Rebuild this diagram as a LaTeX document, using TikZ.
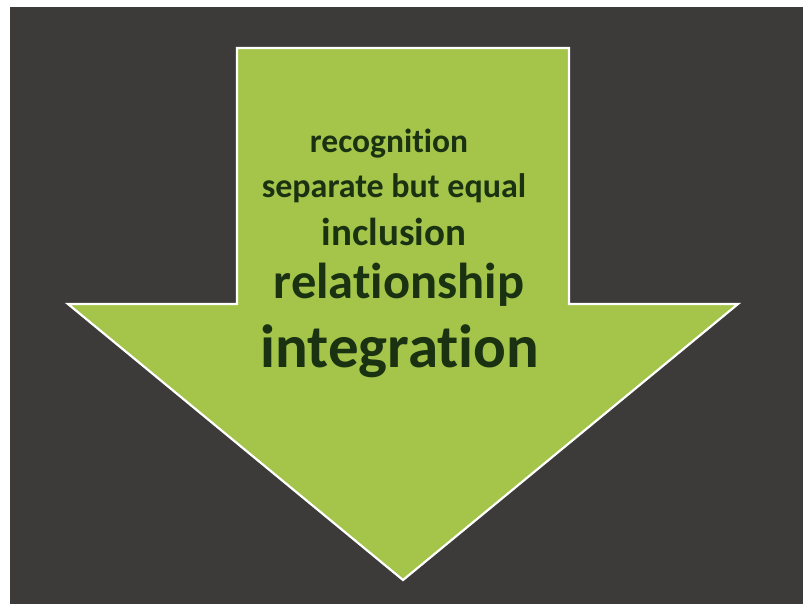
\documentclass[tikz,border=0pt]{standalone}
\usepackage{fontspec}
\setmainfont[Ligatures={NoCommon}]{Carlito}
\definecolor{bgdark}{RGB}{60,59,57}
\definecolor{arrowgreen}{RGB}{164,197,74}
\definecolor{textgreen}{RGB}{26,50,18}
\begin{document}
\begin{tikzpicture}[x=1pt,y=-1pt,
  lbl/.style={anchor=base,text=textgreen,font=\bfseries,inner sep=0pt}]
\useasboundingbox (0,0) rectangle (803,604);
\fill[white] (0,0) rectangle (803,604);
\fill[bgdark] (10,7) rectangle (803,604);
\draw[white,line width=2.2pt,fill=arrowgreen,line join=miter]
  (237,48) -- (569,48) -- (569,304) -- (738,304) -- (403,580) -- (68,304) -- (237,304) -- cycle;
\node[lbl,font=\fontsize{33.5}{33.5}\selectfont\bfseries] (t1) at (389,153) {recognition};
\node[lbl,font=\fontsize{34}{34}\selectfont\bfseries] (t2) at (394,198) {separate but equal};
\node[lbl,font=\fontsize{39}{39}\selectfont\bfseries] (t3) at (394,245) {inclusion};
\node[lbl,font=\fontsize{50.5}{50.5}\selectfont\bfseries] (t4) at (399,298) {relationship};
\node[lbl,font=\fontsize{61}{61}\selectfont\bfseries] (t5) at (400,367) {integration};
\end{tikzpicture}
\end{document}
